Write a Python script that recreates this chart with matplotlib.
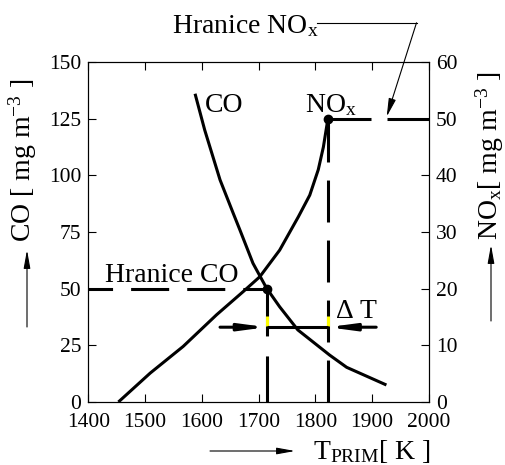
import matplotlib
matplotlib.use("Agg")
import matplotlib.pyplot as plt

plt.rcParams['font.family'] = ['Liberation Serif', 'DejaVu Serif']
plt.rcParams['mathtext.fontset'] = 'custom'
plt.rcParams['mathtext.rm'] = 'Liberation Serif'
plt.rcParams['mathtext.it'] = 'Liberation Serif:italic'
plt.rcParams['lines.scale_dashes'] = False

# ---- data ----
co_T = [1588, 1605, 1632, 1655, 1667, 1690, 1714, 1737, 1769, 1825, 1855, 1925]
co_val = [136, 120, 98, 83.4, 75.9, 61.2, 50.2, 42, 31.8, 20.7, 15.3, 7.5]

nox_T = [1453, 1509, 1567, 1626, 1673, 1702, 1737, 1770, 1790, 1805, 1814, 1822]
nox_val = [0, 5.1, 9.8, 15.4, 19.5, 22.1, 26.8, 32.7, 36.5, 41.0, 45.0, 50.0]

co_limit = 50
nox_limit = 50
T_co_limit = 1714
T_nox_limit = 1822
nox_limit_seg1 = [1822, 1898]
nox_limit_seg2 = [1926, 2000]
dT_y = 33
dT_span = [1632, 1907]
yellow_span = [33.5, 38]

x_ticks = [1400, 1500, 1600, 1700, 1800, 1900, 2000]
co_ticks = [0, 25, 50, 75, 100, 125, 150]
nox_ticks = [0, 10, 20, 30, 40, 50, 60]

W, H = 505, 465
fig = plt.figure(figsize=(W / 100, H / 100), dpi=100)
ax = fig.add_axes([88.3 / W, 1 - 402 / H, (429 - 88.3) / W, (402 - 62) / H])
ax2 = ax.twinx()

lw = 2.2
ax.set_xlim(1400, 2000)
ax.set_ylim(0, 150)
ax2.set_ylim(0, 60)

ax.set_xticks(x_ticks)
ax.set_yticks(co_ticks)
ax2.set_yticks(nox_ticks)
ax.tick_params(axis='both', direction='in', length=6, width=0.8, labelsize=15.5,
               top=True, right=False)
ax.tick_params(axis='x', pad=8)
ax.tick_params(axis='y', pad=5)
ax2.tick_params(direction='in', length=6, width=0.8, labelsize=15.5, pad=5)
for a in (ax, ax2):
    for s in a.spines.values():
        s.set_linewidth(0.8)

# curves
ax.plot(co_T, co_val, color='black', lw=lw, solid_capstyle='butt')
ax2.plot(nox_T, nox_val, color='black', lw=lw, solid_capstyle='butt')

# NOx limit
ax2.plot(nox_limit_seg1, [nox_limit, nox_limit], color='black', lw=lw, solid_capstyle='butt')
ax2.plot(nox_limit_seg2, [nox_limit, nox_limit], color='black', lw=lw, solid_capstyle='butt',
         clip_on=False)

# CO limit horizontal dashed line (drawn right to left)
ax.plot([T_co_limit, 1400], [co_limit, co_limit], color='black', lw=lw,
        linestyle=(10, (27.4, 13)))
# vertical dashed lines
ax.plot([T_co_limit, T_co_limit], [co_limit, 0], color='black', lw=lw,
        linestyle=(0, (33.8, 14.4)))
ax.plot([T_nox_limit, T_nox_limit], [0, nox_limit * 2.5], color='black', lw=lw,
        linestyle=(0, (30.2, 13)))

# yellow marks
for t in (T_co_limit, T_nox_limit):
    ax.plot([t, t], yellow_span, color='#ffff00', lw=lw, solid_capstyle='butt')

# delta T arrows
ax.plot([T_co_limit, T_nox_limit], [dT_y, dT_y], color='black', lw=lw, solid_capstyle='butt')
ap = dict(arrowstyle='-|>,head_length=15,head_width=2.0', mutation_scale=1,
          color='black', lw=lw, shrinkA=0, shrinkB=0)
ax.annotate('', xy=(T_co_limit, dT_y), xytext=(dT_span[0], dT_y), arrowprops=ap)
ax.annotate('', xy=(T_nox_limit, dT_y), xytext=(dT_span[1], dT_y), arrowprops=ap)

# dots
ax.plot([T_co_limit], [co_limit], 'o', color='black', ms=6, zorder=5)
ax.plot([T_nox_limit], [nox_limit * 2.5], 'o', color='black', ms=6, zorder=5)

# texts
ax.text(1606, 128, 'CO', fontsize=20, va='baseline', ha='left')
ax.text(1781, 128, r'NO$_{\rm x}$', fontsize=20, va='baseline', ha='left')
ax.text(1429, 53, 'Hranice CO', fontsize=20, va='baseline', ha='left')
ax.text(1834, 37, r'$\Delta$ T', fontsize=20, va='baseline', ha='left')
ax.text(1548, 162.8, r'Hranice NO$_{\rm x}$', fontsize=20, va='baseline', ha='left',
        clip_on=False)

# Hranice NOx connector
ax.plot([1803, 1978], [167.3, 167.3], color='black', lw=0.8, clip_on=False)
ax.annotate('', xy=(1925.5, 125.9), xytext=(1978, 167.3), annotation_clip=False,
            arrowprops=dict(arrowstyle='-|>,head_length=11,head_width=2.2',
                            mutation_scale=1, color='black', lw=0.8,
                            shrinkA=0, shrinkB=0))

# axis labels
fig.text(23 / W, 1 - 160 / H, r'CO [ mg m$^{-3}$ ]', rotation=90, fontsize=20,
         ha='center', va='center')
fig.text(490 / W, 1 - 156 / H, r'NO$_{\rm x}$[ mg m$^{-3}$ ]', rotation=90, fontsize=20,
         ha='center', va='center')
fig.text(372 / W, 1 - 459 / H, r'T$_{\rm PRIM}$[ K ]', fontsize=20,
         ha='center', va='baseline')

# axis label arrows (figure coordinates)
sap = dict(arrowstyle='-|>,head_length=11,head_width=2.0', mutation_scale=1,
           color='black', lw=0.8, shrinkA=0, shrinkB=0)
ax.annotate('', xy=(27 / W, 1 - 250 / H), xytext=(27 / W, 1 - 327 / H),
            xycoords='figure fraction', textcoords='figure fraction', arrowprops=sap)
ax.annotate('', xy=(491 / W, 1 - 245 / H), xytext=(491 / W, 1 - 321 / H),
            xycoords='figure fraction', textcoords='figure fraction', arrowprops=sap)
ax.annotate('', xy=(295 / W, 1 - 451 / H), xytext=(210 / W, 1 - 451 / H),
            xycoords='figure fraction', textcoords='figure fraction', arrowprops=sap)

fig.savefig('out.png', dpi=100)
